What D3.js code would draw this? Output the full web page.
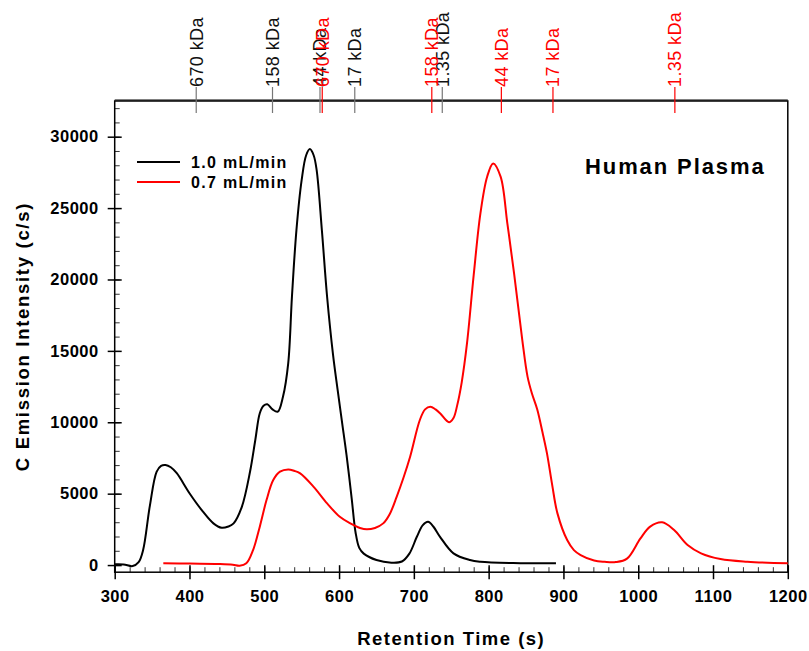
<!DOCTYPE html>
<html>
<head>
<meta charset="utf-8">
<script src="https://cdn.jsdelivr.net/npm/d3@7"></script>
<style>
  body { margin: 0; background: #fff; }
  text { font-family: Arial, "Liberation Sans", sans-serif; }
</style>
</head>
<body>
<svg id="chart" width="809" height="651"></svg>
<script>
// 1.0 mL/min trace
const blackTime = [300, 312, 324, 332, 338, 347, 356, 362, 368, 375, 383, 400, 418, 432, 443, 452, 459, 470, 481, 488, 494, 499, 504, 511, 518, 525, 532, 537, 543, 550, 556, 561, 566, 570, 577, 584, 592, 598, 604, 610, 617, 622, 627, 633, 650, 670, 684, 694, 704, 712, 719, 726, 735, 753, 775, 789, 833, 890];
const blackVals = [50, 40, -70, 200, 1050, 4150, 6530, 6950, 7010, 6850, 6430, 5030, 3740, 2920, 2610, 2700, 2920, 4080, 6550, 8760, 10630, 11150, 11260, 10900, 10740, 11790, 14130, 18800, 23460, 26970, 28700, 29130, 28700, 27670, 23460, 18790, 14700, 12300, 10000, 7700, 4600, 2300, 1200, 800, 350, 170, 250, 800, 1980, 2800, 3030, 2700, 1980, 820, 350, 230, 140, 120];

// 0.7 mL/min trace
const redTime = [365, 400, 441, 458, 467, 476, 485, 494, 503, 512, 521, 532, 540, 548, 566, 584, 601, 615, 628, 637, 648, 659, 668, 677, 686, 695, 708, 715, 722, 729, 735, 747, 753, 758, 764, 771, 780, 789, 798, 806, 816, 825, 834, 845, 852, 858, 865, 872, 878, 885, 892, 905, 914, 923, 941, 955, 970, 985, 1003, 1016, 1032, 1048, 1066, 1084, 1110, 1146, 1200];
const redVals = [120, 110, 70, 20, -50, 120, 1050, 2690, 4550, 5950, 6540, 6700, 6600, 6420, 5480, 4320, 3380, 2920, 2600, 2500, 2600, 2920, 3600, 4780, 6100, 7590, 10160, 10900, 11090, 10900, 10630, 10000, 10300, 11200, 12800, 15500, 20300, 24630, 27200, 28130, 27200, 23930, 20430, 15760, 13200, 12000, 10900, 9300, 7820, 5600, 3620, 1750, 1050, 700, 320, 230, 210, 450, 1870, 2690, 2990, 2450, 1400, 820, 420, 230, 120];

// size-standard markers on the top axis
const blackMarkerLabels = ["670 kDa", "158 kDa", "44 kDa", "17 kDa", "1.35 kDa"];
const blackMarkerTimes = [409, 511, 574.5, 621, 738];
const redMarkerLabels = ["670 kDa", "158 kDa", "44 kDa", "17 kDa", "1.35 kDa"];
const redMarkerTimes = [577.5, 724, 817, 886, 1049];

const xTicks = [300, 400, 500, 600, 700, 800, 900, 1000, 1100, 1200];
const yTicks = [0, 5000, 10000, 15000, 20000, 25000, 30000];
const seriesNames = ["1.0 mL/min", "0.7 mL/min"];

const svg = d3.select("#chart");
const plotLeft = 114.7, plotRight = 787.8, plotTop = 101, plotBottom = 572.2;

const x = d3.scaleLinear().domain([300, 1200]).range([plotLeft, plotRight]);
const y = d3.scaleLinear().domain([-500, 32500]).range([plotBottom, plotTop]);

// minor ticks (inside)
svg.append("g")
  .attr("transform", "translate(0," + plotBottom + ")")
  .call(d3.axisBottom(x).tickValues(d3.range(300, 1201, 20)).tickSize(-5).tickSizeOuter(0).tickFormat(""))
  .call(g => g.select(".domain").remove())
  .selectAll("line").attr("stroke", "#333");

svg.append("g")
  .attr("transform", "translate(" + plotLeft + ",0)")
  .call(d3.axisLeft(y).tickValues(d3.range(0, 32501, 1000)).tickSize(-5).tickSizeOuter(0).tickFormat(""))
  .call(g => g.select(".domain").remove())
  .selectAll("line").attr("stroke", "#333");

// major axes
const xAxis = svg.append("g")
  .attr("transform", "translate(0," + plotBottom + ")")
  .call(d3.axisBottom(x).tickValues(xTicks).tickSize(7).tickPadding(11).tickSizeOuter(0).tickFormat(d3.format("d")));
xAxis.selectAll(".tick line").attr("y1", -7).attr("stroke", "#000").attr("stroke-width", 1.5);
xAxis.selectAll("text").attr("font-size", 16.5).attr("font-weight", "bold").attr("letter-spacing", 0.5).attr("fill", "#000");
xAxis.select(".domain").remove();

const yAxis = svg.append("g")
  .attr("transform", "translate(" + plotLeft + ",0)")
  .call(d3.axisLeft(y).tickValues(yTicks).tickSize(7).tickPadding(9).tickSizeOuter(0).tickFormat(d3.format("d")));
yAxis.selectAll(".tick line").attr("x1", 7).attr("stroke", "#000").attr("stroke-width", 1.5);
yAxis.selectAll("text").attr("font-size", 16.5).attr("font-weight", "bold").attr("letter-spacing", 0.5).attr("fill", "#000");
yAxis.select(".domain").remove();

// frame
svg.append("rect")
  .attr("x", plotLeft).attr("y", plotTop)
  .attr("width", plotRight - plotLeft).attr("height", plotBottom - plotTop)
  .attr("fill", "none").attr("stroke", "#000").attr("stroke-width", 1.5);
svg.append("line")
  .attr("x1", plotLeft).attr("x2", plotRight).attr("y1", plotTop - 1).attr("y2", plotTop - 1)
  .attr("stroke", "#000").attr("stroke-width", 1);

// traces
const line = d3.line()
  .x(d => x(d[0]))
  .y(d => y(d[1]))
  .curve(d3.curveCatmullRom.alpha(0.5));

svg.append("path")
  .datum(d3.zip(blackTime, blackVals))
  .attr("d", line)
  .attr("fill", "none").attr("stroke", "#000").attr("stroke-width", 2);

svg.append("path")
  .datum(d3.zip(redTime, redVals))
  .attr("d", line)
  .attr("fill", "none").attr("stroke", "#ff0000").attr("stroke-width", 2);

// markers
function drawMarkers(labels, times, lineColor, textColor) {
  const g = svg.append("g");
  times.forEach((t, i) => {
    const px = x(t);
    g.append("line")
      .attr("x1", px).attr("x2", px).attr("y1", 87).attr("y2", 113)
      .attr("stroke", lineColor).attr("stroke-width", 1.2);
    g.append("text")
      .attr("x", px).attr("y", 87)
      .attr("transform", "rotate(-90," + px + ",87)")
      .attr("dy", "0.36em")
      .attr("font-size", 18)
      .attr("letter-spacing", 0.4)
      .attr("fill", textColor)
      .text(labels[i]);
  });
}
drawMarkers(blackMarkerLabels, blackMarkerTimes, "#777", "#111");
drawMarkers(redMarkerLabels, redMarkerTimes, "#ff0000", "#ff0000");

// legend
const legendColors = ["#000", "#ff0000"];
seriesNames.forEach((name, i) => {
  const ly = 162 + i * 20;
  svg.append("line")
    .attr("x1", 137).attr("x2", 180).attr("y1", ly).attr("y2", ly)
    .attr("stroke", legendColors[i]).attr("stroke-width", 2);
  svg.append("text")
    .attr("x", 191).attr("y", ly + 5.5)
    .attr("font-size", 16).attr("font-weight", "bold").attr("letter-spacing", 1.3)
    .text(name);
});

svg.append("text")
  .attr("x", 585).attr("y", 174)
  .attr("font-size", 22).attr("font-weight", "bold").attr("letter-spacing", 1.9)
  .text("Human Plasma");

// axis titles
svg.append("text")
  .attr("x", (plotLeft + plotRight) / 2).attr("y", 645)
  .attr("text-anchor", "middle")
  .attr("font-size", 18.5).attr("font-weight", "bold").attr("letter-spacing", 1.5)
  .text("Retention Time (s)");

svg.append("text")
  .attr("transform", "translate(29," + (plotTop + plotBottom) / 2 + ") rotate(-90)")
  .attr("text-anchor", "middle")
  .attr("font-size", 18.5).attr("font-weight", "bold").attr("letter-spacing", 1.7)
  .text("C Emission Intensity (c/s)");
</script>
</body>
</html>
